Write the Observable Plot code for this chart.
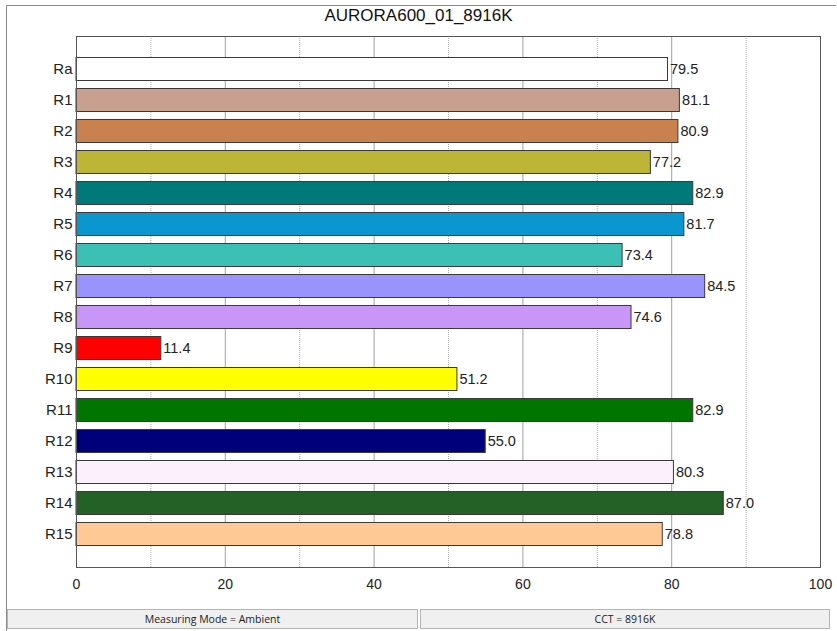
<!DOCTYPE html>
<html>
<head>
<meta charset="utf-8">
<script src="https://cdn.jsdelivr.net/npm/d3@7"></script>
<script src="https://cdn.jsdelivr.net/npm/@observablehq/plot@0.6"></script>
<style>
  html, body { margin: 0; padding: 0; background: #fff; }
  #wrap { position: relative; width: 837px; height: 631px; overflow: hidden; background: #fff; font-family: "Liberation Sans", Arial, sans-serif; }
  #frame { position: absolute; left: 6px; top: 5px; width: 830px; height: 630px; border-left: 1px solid #8a8a8a; border-top: 1px solid #8a8a8a; box-sizing: border-box; }
  #title { position: absolute; left: 0; width: 837px; top: 6px; text-align: center; font-size: 17px; color: #111; }
  #chart { position: absolute; left: 0; top: 0; }
  .status { position: absolute; top: 609px; height: 20px; background: #f0f0f0; border: 1px solid #b4b4b4; box-sizing: border-box; font-family: "Open Sans", "Noto Sans", sans-serif; font-size: 10.5px; color: #222; text-align: center; line-height: 18px; }
  #chart g[aria-label="y-axis tick label"] text { font-size: 15px; }
</style>
</head>
<body>
<div id="wrap">
  <div id="frame"></div>
  <div id="chart"></div>
  <div id="title">AURORA600_01_8916K</div>
  <div class="status" style="left:7px; width:411px;">Measuring Mode = Ambient</div>
  <div class="status" style="left:420px; width:410px;">CCT = 8916K</div>
</div>
<script>
const categories = ["Ra","R1","R2","R3","R4","R5","R6","R7","R8","R9","R10","R11","R12","R13","R14","R15"];
const values = [79.5, 81.1, 80.9, 77.2, 82.9, 81.7, 73.4, 84.5, 74.6, 11.4, 51.2, 82.9, 55.0, 80.3, 87.0, 78.8];
const colors = ["#ffffff","#c8a090","#c98150","#bdb535","#00797a","#0a96cf","#3cc0b5","#9894fb","#c896f6","#ff0000","#ffff00","#007600","#00007a","#fdf0fd","#236126","#ffc996"];
const majorTicks = [0, 20, 40, 60, 80, 100];
const solidGrid = [20, 40, 60, 80];
const dottedGrid = [10, 30, 50, 70, 90];

const data = categories.map((c, i) => ({cat: c, value: values[i], color: colors[i]}));

const chart = Plot.plot({
  width: 837,
  height: 600,
  marginLeft: 76,
  marginRight: 17,
  marginTop: 36,
  marginBottom: 33,
  style: {fontFamily: "'Liberation Sans', Arial, sans-serif", fontSize: "14px", color: "#222", background: "transparent"},
  x: {domain: [0, 100], ticks: majorTicks, tickSize: 0, tickPadding: 12, label: null},
  y: {domain: categories, paddingInner: 0.22, paddingOuter: 0.59, tickSize: 0, tickPadding: 4, label: null},
  marks: [
    Plot.ruleX(dottedGrid, {stroke: "#b0b0b0", strokeDasharray: "1,1"}),
    Plot.ruleX(solidGrid, {stroke: "#a0a0a0"}),
    Plot.barX(data, {x: "value", y: "cat", fill: "color", stroke: "#3a3a3a", strokeWidth: 1, insetTop: 0.5, insetBottom: 0.5}),
    Plot.text(data, {x: "value", y: "cat", text: d => d.value.toFixed(1), textAnchor: "start", dx: 2, fill: "#222", fontSize: 14.5}),
    Plot.frame({stroke: "#555"})
  ]
});
document.getElementById("chart").appendChild(chart);
</script>
</body>
</html>
